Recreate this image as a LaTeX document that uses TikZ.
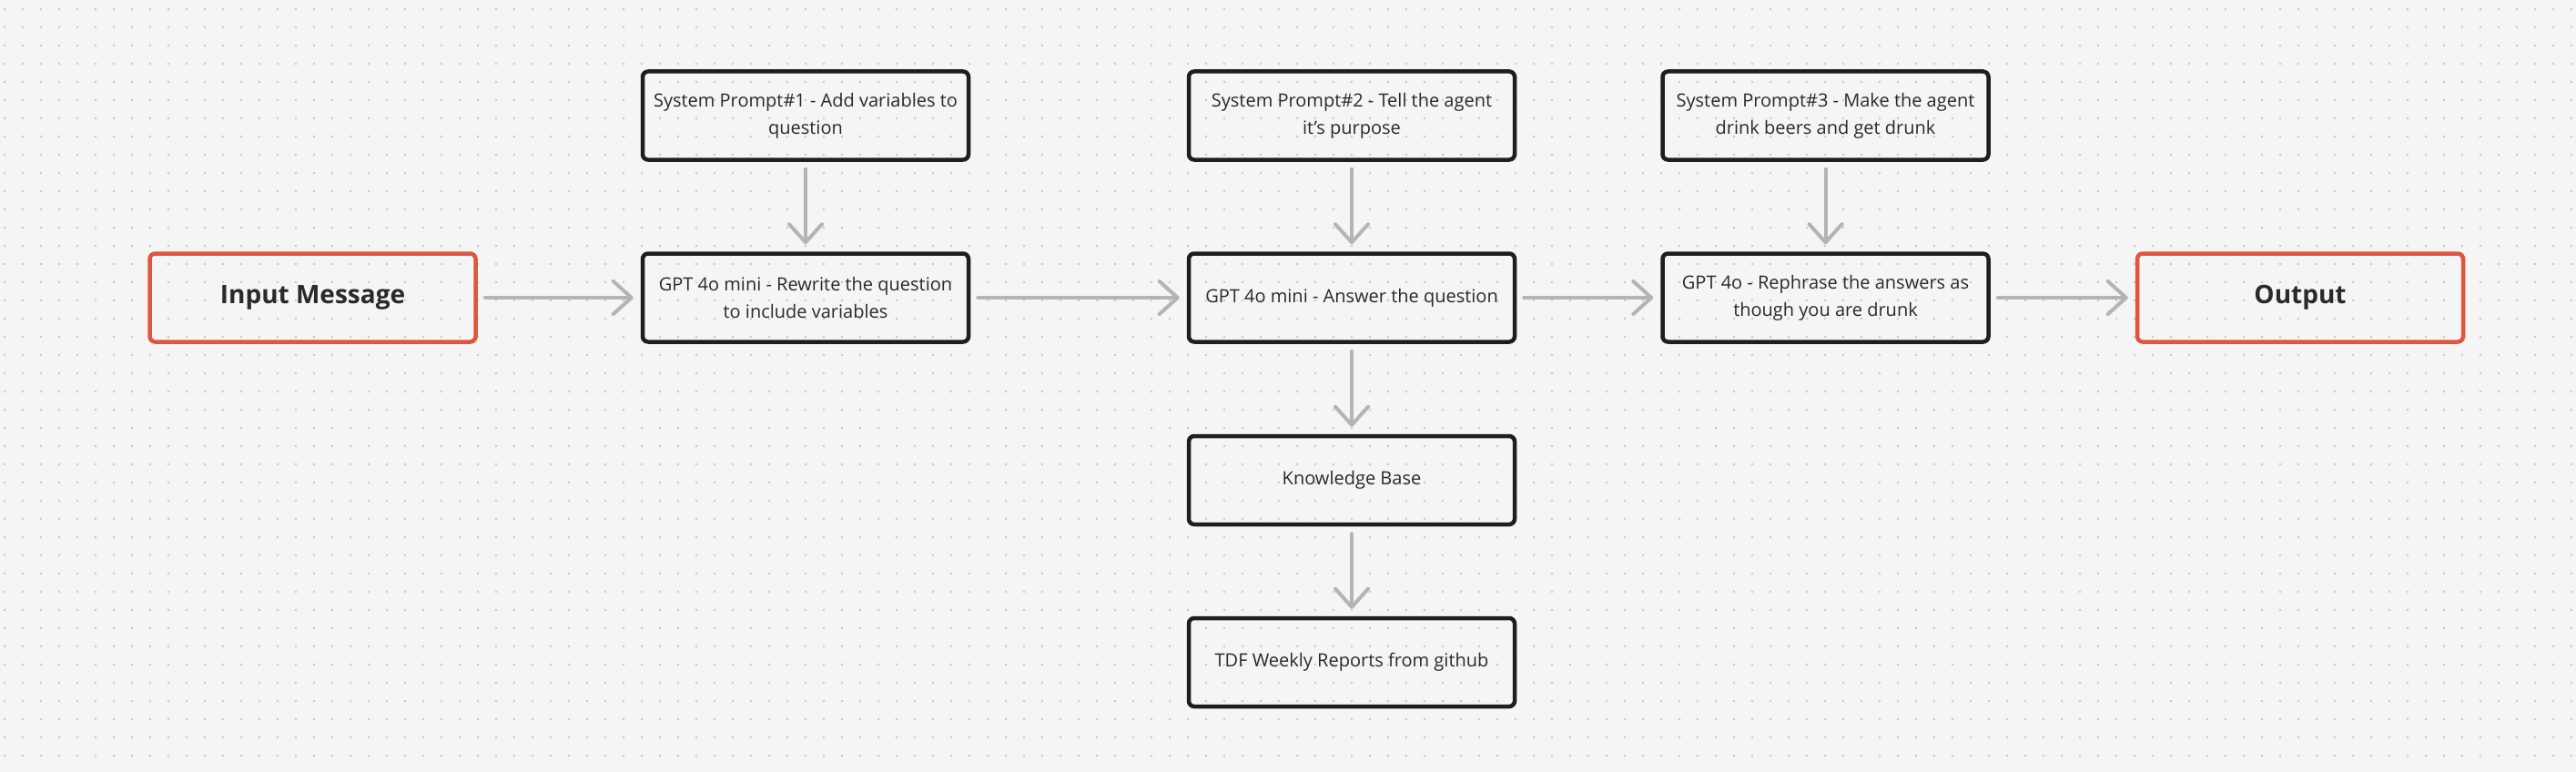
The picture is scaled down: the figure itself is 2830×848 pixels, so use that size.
\documentclass[tikz,border=0pt]{standalone}
\usepackage{fontspec}
\setmainfont{Open Sans}
\usetikzlibrary{arrows.meta}
\definecolor{bgc}{HTML}{F5F5F5}
\definecolor{dotc}{HTML}{C6C6C6}
\definecolor{boxc}{HTML}{1E1E1E}
\definecolor{txtc}{HTML}{2A2A2A}
\definecolor{orc}{HTML}{E0553B}
\definecolor{arrc}{HTML}{B4B4B4}
\tikzset{
  stepbox/.style={draw=boxc, line width=4.5pt, rounded corners=6pt,
    minimum width=358pt, minimum height=97pt, inner sep=0pt,
    align=center, text=txtc, font=\fontsize{20}{30}\selectfont},
  endbox/.style={stepbox, draw=orc, font=\fontsize{28}{34}\selectfont\bfseries},
  flow/.style={draw=arrc, line width=4pt, line cap=round,
    -{Straight Barb[length=20pt,width=36pt,line width=4pt,round]},
    shorten >=8pt, shorten <=8pt}
}
\begin{document}
\begin{tikzpicture}[x=1pt,y=-1pt]
\useasboundingbox (0,0) rectangle (2830,848);
\fill[bgc] (0,0) rectangle (2830,848);
\foreach \j in {0,...,41} {
  \fill[dotc] \foreach \i in {0,...,141} {(5+20*\i,10+20*\j) circle (1.4)};
}
% row 1
\node[stepbox] (sp1) at (885,127) {System Prompt\#1 - Add variables to\\question};
\node[stepbox] (sp2) at (1485,127) {System Prompt\#2 - Tell the agent\\it’s purpose};
\node[stepbox] (sp3) at (2005.5,127) {System Prompt\#3 - Make the agent\\drink beers and get drunk};
% row 2
\node[endbox] (in) at (343.5,327) {Input Message};
\node[stepbox] (g1) at (885,327) {GPT 4o mini - Rewrite the question\\to include variables};
\node[stepbox] (g2) at (1485,327) {GPT 4o mini - Answer the question};
\node[stepbox] (g3) at (2005.5,327) {GPT 4o - Rephrase the answers as\\though you are drunk};
\node[endbox] (out) at (2527,327) {Output};
% rows 3-4
\node[stepbox] (kb) at (1485,527.5) {Knowledge Base};
\node[stepbox] (tdf) at (1485,727.5) {TDF Weekly Reports from github};
% connectors
\draw[flow] (in) -- (g1);
\draw[flow] (g1) -- (g2);
\draw[flow] (g2) -- (g3);
\draw[flow] (g3) -- (out);
\draw[flow] (sp1) -- (g1);
\draw[flow] (sp2) -- (g2);
\draw[flow] (sp3) -- (g3);
\draw[flow] (g2) -- (kb);
\draw[flow] (kb) -- (tdf);
\end{tikzpicture}
\end{document}
